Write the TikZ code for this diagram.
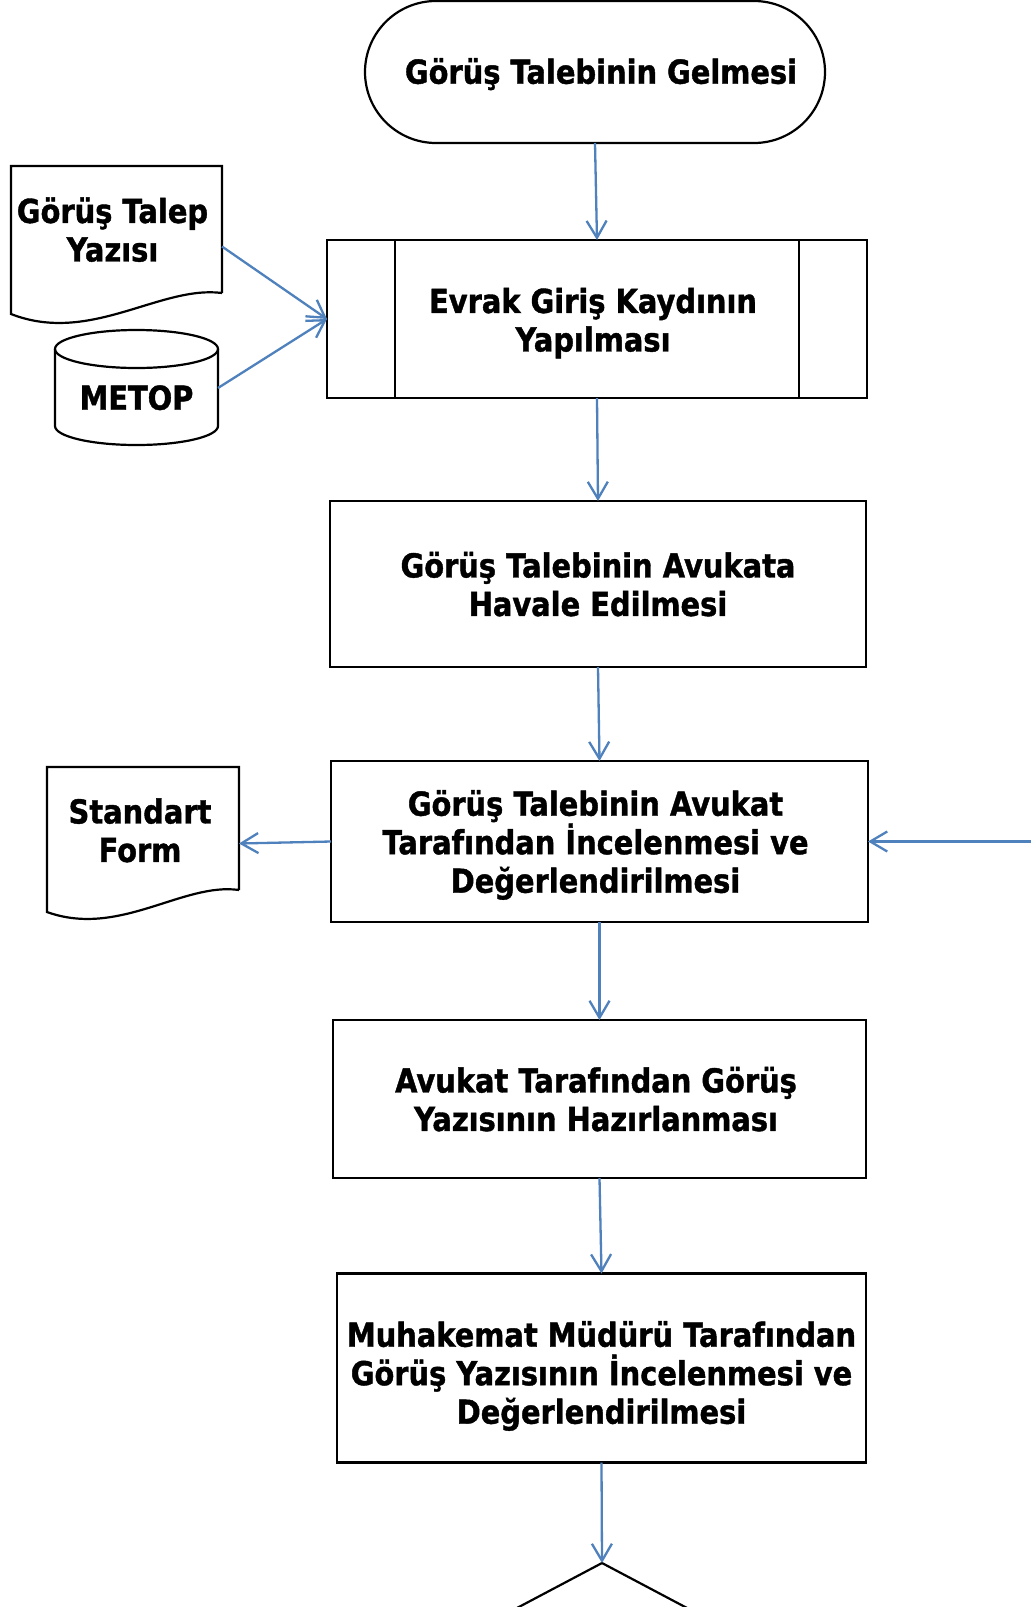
\documentclass[tikz,border=0pt]{standalone}
\usepackage{fontspec}
\setmainfont{DejaVu Sans}[FakeStretch=0.875, BoldFeatures={FakeBold=1.2}]
\usetikzlibrary{arrows.meta,calc,shapes.geometric}
\definecolor{arrowblue}{RGB}{79,129,189}
\newcommand\tx[2][0]{\raisebox{-#1pt}[\height][\depth]{\begin{tabular}{@{}c@{}}#2\end{tabular}}}
\begin{document}
\begin{tikzpicture}[x=1pt,y=-1pt,
  every node/.style={font=\fontsize{33}{38.5}\selectfont\bfseries, align=center, inner sep=0pt, outer sep=0pt},
  boxline/.style={draw=black, line width=2.2pt},
  stepbox/.style={boxline, rectangle},
  plain/.style={rectangle},
  flow/.style={draw=arrowblue, line width=2.3pt, -{Straight Barb[length=17pt,width=20pt]}},
  ]
\useasboundingbox (0,0) rectangle (1031,1607);
\fill[white] (0,0) rectangle (1031,1607);

% terminal
\node[boxline, rounded corners=71pt, minimum width=460pt, minimum height=142pt] (t) at (595,72) {\hspace*{12pt}\tx[4]{Görüş Talebinin Gelmesi}};

% predefined process
\node[stepbox, minimum width=540pt, minimum height=158pt] (p) at (597,319) {\hspace*{-8pt}\tx[5.5]{Evrak Giriş Kaydının\\Yapılması}};
\draw[boxline] ([xshift=68pt]p.north west) -- ([xshift=68pt]p.south west);
\draw[boxline] ([xshift=-68pt]p.north east) -- ([xshift=-68pt]p.south east);

% boxes
\node[stepbox, minimum width=536pt, minimum height=166pt] (b2) at (598,584) {\tx[5]{Görüş Talebinin Avukata\\Havale Edilmesi}};
\node[stepbox, minimum width=537pt, minimum height=161pt] (b3) at (599.5,841.5) {\hspace*{-8pt}\tx[5]{Görüş Talebinin Avukat\\Tarafından \smash{İ}ncelenmesi ve\\Değerlendirilmesi}};
\node[stepbox, minimum width=533pt, minimum height=158pt] (b4) at (599.5,1099) {\hspace*{-7pt}\tx[5]{Avukat Tarafından Görüş\\Yazısının Hazırlanması}};
\node[stepbox, minimum width=529pt, minimum height=189pt] (b5) at (601.5,1368) {\tx[9.5]{Muhakemat Müdürü Tarafından\\Görüş Yazısının \smash{İ}ncelenmesi ve\\Değerlendirilmesi}};

% document 1
\node[plain, minimum width=211pt, minimum height=127pt] (d1) at (116.5,229.5) {\hspace*{-8pt}\tx[5]{Görüş Talep\\Yazısı}};
\draw[boxline, line join=miter] (d1.south east) -- (d1.north east) -- (d1.north west) -- ($(d1.south west)+(0,21)$)
  .. controls ($(d1.south west)+(79,52)$) and ($(d1.south east)+(-62,-8)$) .. (d1.south east);

% cylinder
\node[plain, minimum width=163pt, minimum height=96pt] (c) at (136.5,397) {\tx[5]{METOP}};
\draw[boxline] (c.north) ellipse [x radius=81.5pt, y radius=19pt];
\draw[boxline] (c.north west) -- ($(c.south west)+(0,-19)$)
  arc[start angle=180, end angle=360, x radius=81.5pt, y radius=19pt] -- (c.north east);

% document 2
\node[plain, minimum width=192pt, minimum height=123pt] (d2) at (143,828.5) {\hspace*{-6pt}\tx[6.5]{Standart\\Form}};
\draw[boxline, line join=miter] (d2.south east) -- (d2.north east) -- (d2.north west) -- ($(d2.south west)+(0,22)$)
  .. controls ($(d2.south west)+(72,48)$) and ($(d2.south east)+(-56,-8)$) .. (d2.south east);

% diamond (cut by page edge)
\begin{scope}
\clip (0,0) rectangle (1031,1607);
\node[diamond, boxline, minimum width=378pt, minimum height=200pt] (dm) at (602,1663) {};
\end{scope}

\coordinate (rin) at (1031,841.5);

% connectors
\draw[flow] (t.south) -- (p.north);
\draw[flow] ([yshift=-17pt]d1.east) -- (p.west);
\draw[flow] ([yshift=9pt]c.east) -- (p.west);
\draw[flow] (p.south) -- (b2.north);
\draw[flow] (b2.south) -- (b3.north);
\draw[flow] (b3.west) -- ([yshift=-15pt]d2.east);
\draw[flow] (rin) -- (b3.east);
\draw[flow] (b3.south) -- (b4.north);
\draw[flow] (b4.south) -- (b5.north);
\draw[flow] (b5.south) -- (dm.north);
\end{tikzpicture}
\end{document}
